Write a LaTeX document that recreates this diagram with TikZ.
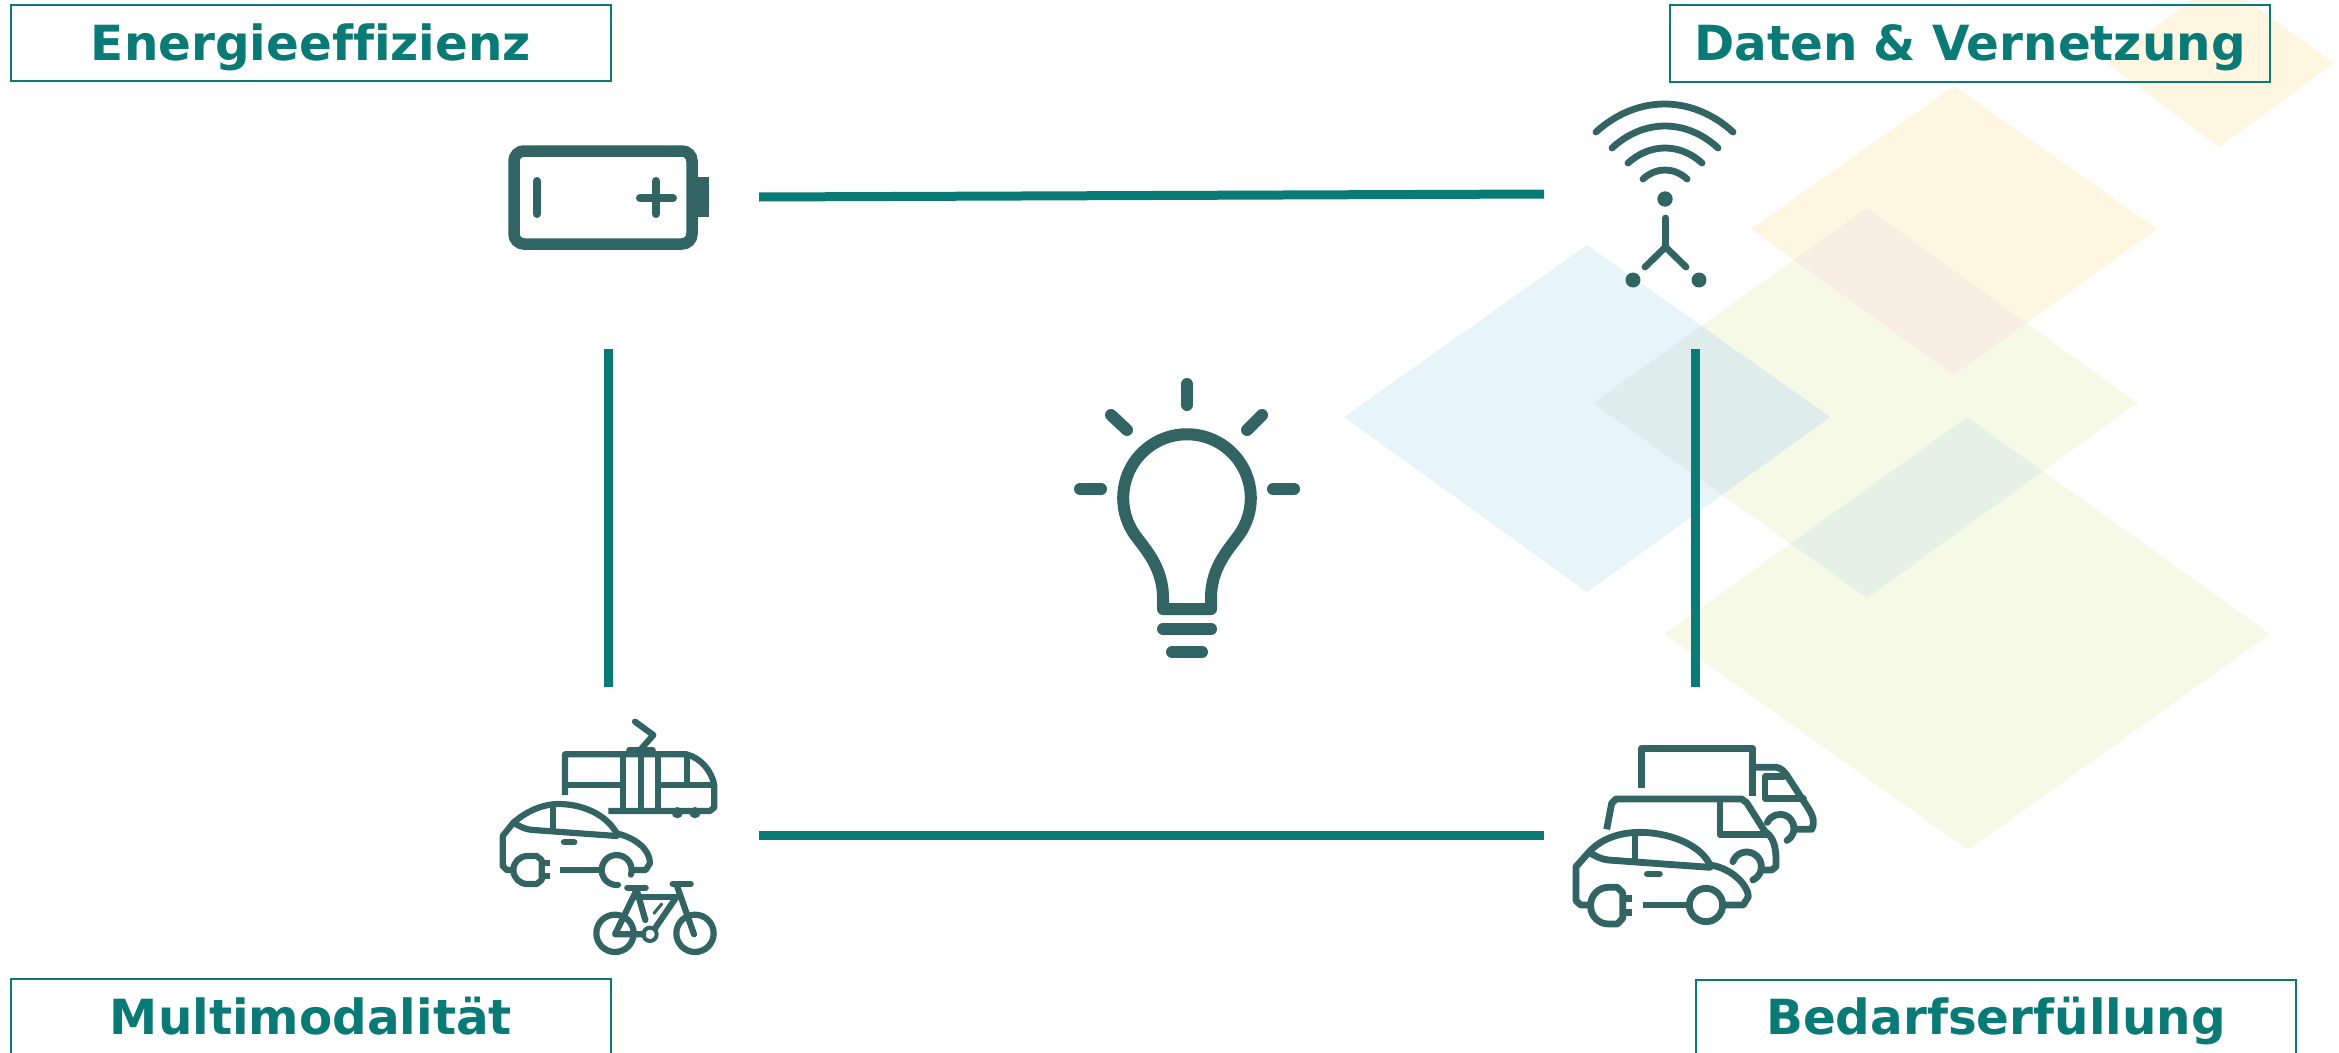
\documentclass[tikz,border=0pt]{standalone}
\usepackage{fontspec}
\setmainfont{DejaVu Sans}[Ligatures=NoCommon]
\definecolor{teal1}{HTML}{097A76}
\definecolor{iconc}{HTML}{326464}
\definecolor{dyel}{HTML}{FEF6E1}
\definecolor{dblu}{HTML}{E7F4F9}
\definecolor{dgrn}{HTML}{F5F9E5}
\definecolor{ovyg}{HTML}{F8EDE3}
\definecolor{ovbg}{HTML}{DEECEC}
\definecolor{ovgg}{HTML}{E5F1E5}
\newcommand{\wheelarc}[5]{\draw (#1,#2) ++(#4:#3) arc[start angle=#4,end angle=#5,radius=#3pt];}
\newcommand{\wifiarc}[4]{\draw (#1,#3) .. controls ({#1+0.3*(#2-#1)},#4) and ({#2-0.3*(#2-#1)},#4) .. (#2,#3);}
\def\dTop{(2107,63)--(2219,-20)--(2334,63)--(2219,147)--cycle}
\def\dYel{(1751,229)--(1954,86)--(2157,229)--(1954,375)--cycle}
\def\dMid{(1593,403)--(1867,208)--(2137,403)--(1867,598)--cycle}
\def\dBlu{(1344,417)--(1587,245)--(1830,417)--(1587,592)--cycle}
\def\dBig{(1665,634)--(1967,417)--(2270,634)--(1968,850)--cycle}
\tikzset{
  labelbox/.style={draw=teal1,line width=2pt,inner sep=0pt,text width=600pt,align=center,
    text=teal1,font=\fontsize{48.4}{55}\selectfont\bfseries},
  link/.style={draw=teal1,line width=9pt},
  icon/.style={draw=iconc,line cap=round,line join=round,line width=#1},
  icon/.default=6pt
}
\begin{document}
\begin{tikzpicture}[x=1pt,y=1pt,yscale=-1]
\useasboundingbox (0,0) rectangle (2339,1052);
\clip (0,0) rectangle (2339,1052);
\fill[white] (0,0) rectangle (2339,1052);
% background diamonds
\fill[dyel] \dTop;
\fill[dyel] \dYel;
\fill[dgrn] \dMid;
\fill[dblu] \dBlu;
\fill[dgrn] \dBig;
\begin{scope}\clip \dYel; \fill[ovyg] \dMid;\end{scope}
\begin{scope}\clip \dBlu; \fill[ovbg] \dMid;\end{scope}
\begin{scope}\clip \dBig; \fill[ovgg] \dMid;\end{scope}
% labels
\node[labelbox,text height=55pt,text depth=21pt] (labE) at (311,4) [anchor=north] {Energieeffizienz};
\node[labelbox,text height=55pt,text depth=22pt] (labD) at (1970,4) [anchor=north] {Daten \& Vernetzung};
\node[labelbox,text height=55pt,text depth=23pt] (labM) at (311,978) [anchor=north] {Multimodalität};
\node[labelbox,text height=54pt,text depth=23pt] (labB) at (1996,979) [anchor=north] {Bedarfserfüllung};
% connector ends
\coordinate (batE) at (759,197);
\coordinate (wifiW) at (1544,194);
\coordinate (batS) at (608.5,349);
\coordinate (multN) at (608.5,687);
\coordinate (wifiS) at (1695,349);
\coordinate (carN) at (1695,687);
\coordinate (multE) at (759,835);
\coordinate (carW) at (1544,835);
\draw[link] (batE) -- (wifiW);
\draw[link] (batS) -- (multN);
\draw[link] (wifiS) -- (carN);
\draw[link] (multE) -- (carW);
% battery
\draw[draw=iconc,line width=11.5pt,rounded corners=10pt] (514,151) rectangle (692,244);
\fill[iconc] (697,177) rectangle (709,217);
\begin{scope}[icon=8pt]
\draw (537,181) -- (537,214);
\draw (640,198) -- (673,198);
\draw (656,181) -- (656,214);
\end{scope}
% wifi
\begin{scope}[icon=6.8pt]
\wifiarc{1596}{1733}{132}{94.7}
\wifiarc{1612}{1718}{148}{118.7}
\wifiarc{1628}{1702}{163}{143}
\wifiarc{1643}{1687}{179}{167}
\draw (1665.5,218) -- (1665.5,247);
\draw (1645,267) -- (1665.5,247) -- (1686,267);
\end{scope}
\fill[iconc] (1665,199) circle[radius=7.7pt];
\fill[iconc] (1633,280) circle[radius=7.5pt];
\fill[iconc] (1699,280) circle[radius=7.5pt];
% bulb
\begin{scope}[icon=12pt]
\draw (1135,535) arc[start angle=144.6,end angle=395.4,radius=63.8pt]
  .. controls (1228,550) and (1211,568) .. (1211,598) -- (1211,609) -- (1163,609) -- (1163,598)
  .. controls (1163,568) and (1146,550) .. (1135,535) -- cycle;
\draw (1187,384) -- (1187,405);
\draw (1111,415) -- (1127,430);
\draw (1262,415) -- (1247,430);
\draw (1080,489) -- (1101,489);
\draw (1273,489) -- (1294,489);
\draw (1163,629) -- (1211,629);
\draw (1172,652) -- (1202,652);
\end{scope}
% multimodal icon
\begin{scope}[shift={(480,700)},scale=0.33333,icon=6.2pt]
% tram
\draw[line cap=butt] (255,285) -- (255,163) -- (620,163) .. controls (665,175) and (695,215) .. (703,255) -- (703,322) -- (690,333) -- (385,333);
\draw[line cap=butt] (255,255) -- (430,255);
\draw[line cap=butt] (535,255) -- (703,255);
\draw[line cap=butt] (430,163) -- (430,333);
\draw[line cap=butt] (482,163) -- (482,333);
\draw[line cap=butt] (535,163) -- (535,333);
\draw[line cap=butt] (620,163) -- (620,255);
\draw (448,150) -- (518,150);
\draw (465,65) -- (520,105) -- (485,145);
\fill[iconc] (592,338) circle[radius=17pt];
\fill[iconc] (645,338) circle[radius=17pt];
% car
\draw (100,510) -- (80,510) -- (68,498) -- (68,408) -- (100,368) .. controls (150,325) and (200,312) .. (235,312) .. controls (310,312) and (380,345) .. (410,400)
  .. controls (470,415) and (510,450) .. (510,490) -- (497,510) -- (462,510);
\wheelarc{410}{510}{45}{85}{378}
\draw (100,510) arc[start angle=180,end angle=270,radius=42pt] -- (170,468) -- (185,480) -- (185,540) -- (170,552) -- (142,552) arc[start angle=90,end angle=180,radius=42pt];
\draw[line cap=butt] (190,490) -- (210,490);
\draw[line cap=butt] (190,528) -- (210,528);
\draw[line cap=butt] (240,510) -- (365,510);
\draw (100,368) .. controls (125,382) and (135,388) .. (160,390) -- (410,408);
\draw (220,325) -- (220,385);
\draw (252,427) -- (283,427);
% bike
\draw (405,700) circle[radius=56pt];
\draw (645,700) circle[radius=56pt];
\draw (442,563) -- (497,563);
\draw (578,552) -- (632,552);
\draw (470,570) -- (405,703) -- (490,703);
\draw (465,590) -- (590,590);
\draw (470,570) -- (496,660);
\draw (590,555) -- (642,703);
\draw (590,590) -- (525,685);
\draw[line width=4pt] (510,703) circle[radius=20pt];
\draw[line width=3pt] (522,640) -- (545,612);
\end{scope}
% vehicles icon
\begin{scope}[shift={(1560,730)},scale=0.33333,icon=6.8pt]
% truck
\draw[line cap=butt] (245,175) -- (245,55) -- (578,55) -- (578,198);
\draw[line cap=butt] (578,112) -- (650,112) .. controls (665,115) and (672,125) .. (680,135) -- (745,235) .. controls (760,260) and (765,275) .. (755,298) -- (705,298);
\draw (670,140) -- (615,140) -- (615,205) -- (730,205);
\wheelarc{660}{295}{42}{205}{420}
% van
\draw[line cap=butt] (140,298) -- (155,220) -- (168,207) -- (545,207) -- (560,218) -- (615,305) .. controls (640,320) and (650,350) .. (648,410) -- (635,420) -- (605,420);
\draw[line cap=butt] (480,207) -- (480,314) -- (625,314);
\wheelarc{560}{410}{44}{200}{425}
% car
\draw (85,525) -- (62,525) -- (48,512) -- (48,410) -- (88,365) .. controls (130,320) and (190,307) .. (240,307) .. controls (320,307) and (420,340) .. (450,405)
  .. controls (520,415) and (565,470) .. (565,500) -- (550,525) -- (490,525);
\draw (438,525) circle[radius=50pt];
\draw (92,525) arc[start angle=180,end angle=270,radius=53pt] -- (172,472) -- (188,488) -- (188,565) -- (172,582) -- (145,582) arc[start angle=90,end angle=180,radius=53pt];
\draw[line cap=butt] (192,505) -- (215,505);
\draw[line cap=butt] (192,548) -- (215,548);
\draw[line cap=butt] (250,525) -- (388,525);
\draw (88,368) .. controls (110,380) and (125,388) .. (145,390) -- (450,412);
\draw (225,320) -- (225,385);
\draw (262,432) -- (298,432);
\end{scope}
\end{tikzpicture}
\end{document}
